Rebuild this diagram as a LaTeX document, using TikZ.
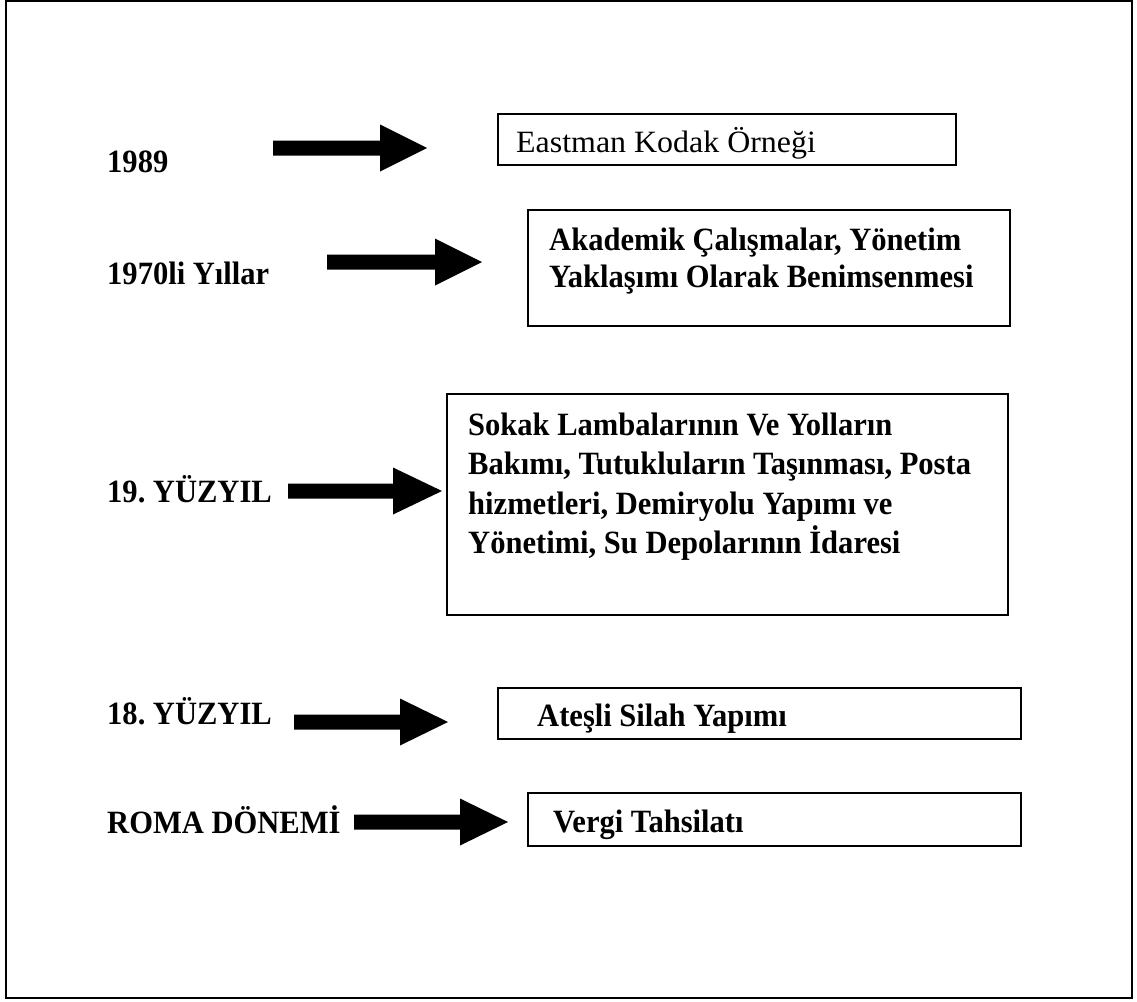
\documentclass[tikz,border=0pt]{standalone}
\usepackage{fontspec}
\setmainfont{Liberation Serif}[FakeStretch=0.94]
\newfontfamily\eastfont{Liberation Serif}[FakeStretch=1.03]
\frenchspacing
\newcommand\fatarrow[4]{%
  \fill[black] (#1,#4-7.5) -- (#2,#4-7.5) -- (#2,#4-23.5) -- (#3,#4)
     -- (#2,#4+23.5) -- (#2,#4+7.5) -- (#1,#4+7.5) -- cycle;}
\tikzset{
  box/.style={draw=black, line width=1.6pt, anchor=north west, inner sep=0pt},
  lbl/.style={anchor=base west, inner sep=0pt, font=\fontsize{32.5}{38}\selectfont\bfseries},
  txt/.style={anchor=base west, inner sep=0pt, font=\fontsize{32.5}{38}\selectfont\bfseries},
  rtxt/.style={anchor=base west, inner sep=0pt, font=\eastfont\fontsize{31}{36}\selectfont},
}
\begin{document}
\begin{tikzpicture}[x=1pt,y=-1pt]
\useasboundingbox (0,0) rectangle (1137,1001);
\draw[line width=2pt] (6,1) rectangle (1132,998);
% labels
\node[lbl] (l1) at (107,172) {1989};
\node[lbl] (l2) at (107,284) {1970li Yıllar};
\node[lbl] (l3) at (107,502) {19. YÜZYIL};
\node[lbl] (l4) at (107,724) {18. YÜZYIL};
\node[lbl] (l5) at (107,833) {ROMA DÖNEMİ};
% arrows
\fatarrow{273}{380}{427}{148}
\fatarrow{327}{435}{482}{262}
\fatarrow{288}{393}{442}{491}
\fatarrow{294}{400}{448}{722}
\fatarrow{354}{460}{508}{822}
% boxes
\node[box, minimum width=458, minimum height=51] (b1) at (497,113) {};
\node[rtxt] (t1) at (516,152) {Eastman Kodak Örneği};
\node[box, minimum width=482, minimum height=116] (b2) at (527,209) {};
\node[txt] (t2a) at (549,250) {Akademik Çalışmalar, Yönetim};
\node[txt] (t2b) at (549,287) {Yaklaşımı Olarak Benimsenmesi};
\node[box, minimum width=561, minimum height=221] (b3) at (446,393) {};
\node[txt] (t3a) at (468,435) {Sokak Lambalarının Ve Yolların};
\node[txt] (t3b) at (468,474) {Bakımı, Tutukluların Taşınması, Posta};
\node[txt] (t3c) at (468,514) {hizmetleri, Demiryolu Yapımı ve};
\node[txt] (t3d) at (468,553) {Yönetimi, Su Depolarının İdaresi};
\node[box, minimum width=523, minimum height=51] (b4) at (497,687) {};
\node[txt] (t4) at (537,726) {Ateşli Silah Yapımı};
\node[box, minimum width=493, minimum height=53] (b5) at (527,792) {};
\node[txt] (t5) at (553,832) {Vergi Tahsilatı};
\end{tikzpicture}
\end{document}
